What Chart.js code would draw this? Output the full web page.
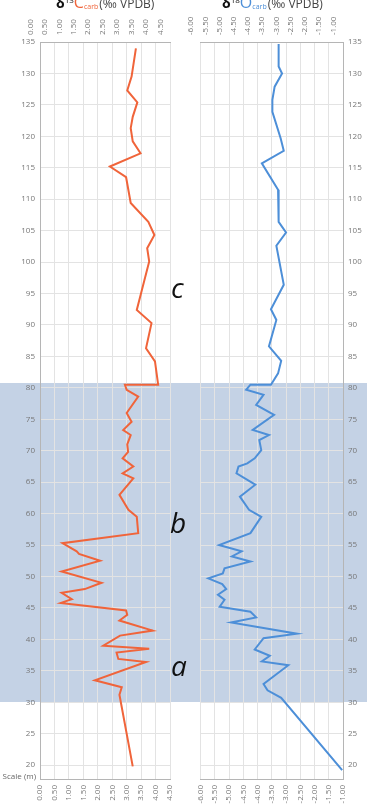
<!DOCTYPE html>
<html>
<head>
<meta charset="utf-8">
<script src="https://cdn.jsdelivr.net/npm/chart.js@4"></script>
<style>
  html, body { margin: 0; padding: 0; background: #fff; }
  #wrap { position: relative; width: 367px; height: 809px; overflow: hidden; font-family: "Open Sans", sans-serif; }
  #band { position: absolute; left: 0; width: 367px; background: rgb(196, 210, 229); }
  canvas { position: absolute; top: 0; }
  .title { position: absolute; top: -8px; font-size: 12px; color: #444; white-space: nowrap; line-height: 16px; }
  .title .d { color: #111; font-size: 14px; font-weight: bold; }
  .title sup { font-size: 8px; color: #111; }
  .title .big { font-size: 16px; }
  .title sub { font-size: 7px; vertical-align: -1px; margin-right: 1px; }
  .orange { color: #f0643a; }
  .blue { color: #4d8fd8; }
</style>
</head>
<body>
<div id="wrap">
  <div id="band"></div>
  <canvas id="cChart" width="200" height="809" style="left:0"></canvas>
  <canvas id="oChart" width="183" height="809" style="left:184px"></canvas>
  <div class="title" style="left:56px"><span class="d">δ</span><sup>13</sup><span class="big orange">C</span><sub class="orange">carb</sub>(‰ VPDB)</div>
  <div class="title" style="left:222px"><span class="d">δ</span><sup>18</sup><span class="big blue">O</span><sub class="blue">carb</sub>(‰ VPDB)</div>
</div>
<script>
// ==========================
// DATA
// ==========================
const depthTicks = [20, 25, 30, 35, 40, 45, 50, 55, 60, 65, 70, 75, 80, 85, 90, 95, 100, 105, 110, 115, 120, 125, 130, 135];
const carbonTicks = [0, 0.5, 1, 1.5, 2, 2.5, 3, 3.5, 4, 4.5];
const oxygenTicks = [-6, -5.5, -5, -4.5, -4, -3.5, -3, -2.5, -2, -1.5, -1];

// zone b/a boundaries (m)
const zoneTop = 80.7;
const zoneBottom = 30;

const carbonDepth = [
  134.0, 129.5, 127.3, 125.4, 123.1, 121.3, 119.2, 117.3, 115.2, 113.5, 109.4, 106.4, 104.3, 102.2, 100.1,
  92.4, 90.3, 86.3, 84.2, 80.5, 80.5, 79.7, 78.6, 76.0, 74.6, 73.3, 72.5, 71.0, 69.8, 68.8, 67.5, 66.4, 65.6,
  63.0, 60.6, 59.5, 56.9, 55.3, 54.0, 53.6, 52.5, 50.8, 49.0, 48.0, 47.4, 46.4, 45.8, 44.6, 43.9, 43.0, 41.4,
  40.6, 39.0, 38.5, 37.9, 36.9, 36.4, 33.5, 32.4, 31.2, 19.8
];
const carbonValue = [
  3.32, 3.17, 3.02, 3.37, 3.21, 3.14, 3.21, 3.48, 2.42, 2.98, 3.14, 3.75, 3.96, 3.71, 3.78,
  3.35, 3.86, 3.67, 3.98, 4.09, 2.94, 3.00, 3.40, 3.00, 3.17, 2.88, 3.14, 3.02, 3.05, 2.86, 3.23, 2.86, 3.23,
  2.75, 3.06, 3.35, 3.40, 0.78, 1.27, 1.35, 2.08, 0.75, 2.13, 1.55, 0.75, 1.10, 0.72, 2.98, 3.02, 2.75, 3.90,
  2.77, 2.19, 3.78, 2.65, 2.71, 3.67, 1.90, 2.83, 2.75, 3.21
];

const oxygenDepth = [
  134.7, 131.1, 130.0, 127.9, 125.8, 123.9, 119.7, 117.7, 115.7, 111.5, 106.4, 104.7, 102.6, 96.4, 92.5,
  90.8, 86.6, 84.3, 82.3, 80.5, 80.5, 79.7, 78.9, 77.3, 75.7, 73.3, 72.5, 71.7, 70.1, 68.8, 68.0, 67.5,
  66.4, 64.6, 62.7, 60.6, 59.5, 56.9, 55.0, 54.0, 53.2, 52.4, 51.3, 50.5, 49.7, 48.8, 48.0, 47.1, 46.3,
  45.2, 44.4, 43.5, 42.7, 40.9, 40.2, 38.4, 37.4, 36.5, 35.9, 32.9, 31.9, 30.7, 19.2
];
const oxygenValue = [
  -3.26, -3.26, -3.14, -3.40, -3.48, -3.48, -3.19, -3.08, -3.85, -3.28, -3.26, -3.00, -3.34, -3.08, -3.53,
  -3.34, -3.60, -3.17, -3.28, -3.53, -4.25, -4.40, -3.79, -4.05, -3.42, -4.17, -3.60, -3.94, -3.87, -4.10, -4.36, -4.67,
  -4.74, -4.08, -4.62, -4.30, -3.87, -4.25, -5.35, -4.56, -4.90, -4.25, -5.16, -5.22, -5.73, -5.24, -5.10, -5.39, -5.16,
  -5.33, -4.25, -4.05, -4.93, -2.62, -3.79, -4.10, -3.57, -3.85, -2.92, -3.79, -3.65, -3.17, -1.03
];

// ==========================
// HELPERS
// ==========================
const FONT = "'Open Sans', sans-serif";
const GRID = "#e3e3e3";
const BORDER = "#b5b5b5";
const TICK = "#777";

function toPoints(values, depths) {
  return values.map((v, i) => ({ x: v, y: depths[i] }));
}

function xScale(tickList, min, max, position, height) {
  return {
    type: "linear",
    position: position,
    min: min,
    max: max,
    afterBuildTicks: (scale) => { scale.ticks = tickList.map((v) => ({ value: v })); },
    afterFit: (scale) => { scale.height = height; },
    grid: { display: position === "top", color: GRID, drawTicks: false },
    border: { display: true, color: BORDER },
    ticks: {
      autoSkip: false,
      minRotation: 90,
      maxRotation: 90,
      padding: position === "top" ? 7 : 6,
      color: TICK,
      font: { family: FONT, size: 8 },
      callback: (v) => Number(v).toFixed(2),
    },
  };
}

function yScale(position, width) {
  return {
    type: "linear",
    position: position,
    min: 17.8,
    max: 135,
    afterBuildTicks: (scale) => { scale.ticks = depthTicks.map((v) => ({ value: v })); },
    afterFit: (scale) => { scale.width = width; },
    grid: { color: GRID, drawTicks: false },
    border: { display: true, color: BORDER },
    ticks: { padding: 5, color: TICK, font: { family: FONT, size: 8 } },
  };
}

// ==========================
// LABEL PLUGIN (left only)
// ==========================
const zoneLabels = {
  id: "zoneLabels",
  afterDraw(chart) {
    const { ctx, chartArea, scales } = chart;
    ctx.save();
    ctx.fillStyle = "#666";
    ctx.font = "8px " + FONT;
    ctx.textAlign = "right";
    ctx.textBaseline = "middle";
    ctx.fillText("Scale (m)", 36, chartArea.bottom - 2);

    ctx.fillStyle = "#111";
    ctx.font = "italic 28px " + FONT;
    ctx.textAlign = "left";
    ctx.textBaseline = "alphabetic";
    ctx.fillText("c", chartArea.right + 1, scales.y.getPixelForValue(94.3));
    ctx.fillText("b", chartArea.right + 0, scales.y.getPixelForValue(56.9));
    ctx.fillText("a", chartArea.right + 1, scales.y.getPixelForValue(34.2));
    ctx.restore();
  },
};

// ==========================
// CHARTS
// ==========================
const lineStyle = { showLine: true, pointRadius: 0, borderWidth: 2, fill: false, tension: 0 };

const cChart = new Chart(document.getElementById("cChart"), {
  type: "scatter",
  data: {
    datasets: [
      Object.assign({ label: "d13C", data: toPoints(carbonValue, carbonDepth), borderColor: "#f0643a" }, lineStyle),
    ],
  },
  options: {
    responsive: false,
    animation: false,
    layout: { padding: { left: 0, right: 30, top: 0, bottom: 0 } },
    plugins: { legend: { display: false }, tooltip: { enabled: false } },
    scales: {
      x: xScale(carbonTicks, 0, 4.5, "top", 42),
      x2: xScale(carbonTicks, 0, 4.5, "bottom", 30),
      y: yScale("left", 40),
    },
  },
  plugins: [zoneLabels],
});

const oChart = new Chart(document.getElementById("oChart"), {
  type: "scatter",
  data: {
    datasets: [
      Object.assign({ label: "d18O", data: toPoints(oxygenValue, oxygenDepth), borderColor: "#4d8fd8" }, lineStyle),
    ],
  },
  options: {
    responsive: false,
    animation: false,
    layout: { padding: { left: 13, right: 0, top: 0, bottom: 0 } },
    plugins: { legend: { display: false }, tooltip: { enabled: false } },
    scales: {
      x: xScale(oxygenTicks, -6, -1, "top", 42),
      x2: xScale(oxygenTicks, -6, -1, "bottom", 30),
      y: yScale("right", 24),
    },
  },
});

// shaded zone behind both panels
const band = document.getElementById("band");
const yTop = cChart.scales.y.getPixelForValue(zoneTop);
const yBottom = cChart.scales.y.getPixelForValue(zoneBottom);
band.style.top = yTop + "px";
band.style.height = (yBottom - yTop) + "px";
</script>
</body>
</html>
